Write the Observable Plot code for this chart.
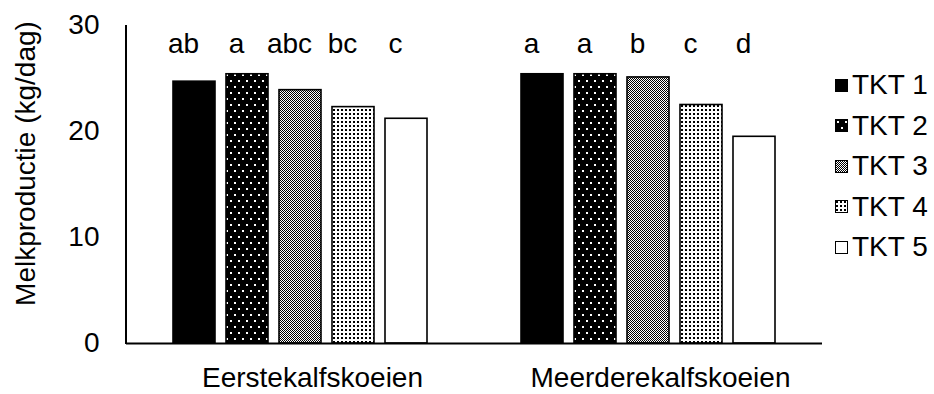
<!DOCTYPE html>
<html>
<head>
<meta charset="utf-8">
<script src="https://cdn.jsdelivr.net/npm/d3@7"></script>
<script src="https://cdn.jsdelivr.net/npm/@observablehq/plot@0.6"></script>
<style>
  html, body { margin: 0; padding: 0; background: #fff; }
  body { font-family: "Liberation Sans", Arial, sans-serif; }
  #wrap { position: relative; width: 934px; height: 394px; overflow: hidden; }
  #legend { position: absolute; left: 835px; top: 65px; }
  .item { display: flex; align-items: center; height: 40.5px; font-size: 28px; color: #000; }
  .sw { width: 13px; height: 13px; margin-right: 4px; }
</style>
</head>
<body>
<svg width="0" height="0" style="position:absolute">
  <defs>
    <pattern id="pat2" width="8" height="12" patternUnits="userSpaceOnUse">
      <rect width="8" height="12" fill="#000"/>
      <rect x="2" y="2" width="2" height="2" fill="#fff"/>
      <rect x="6" y="8" width="2" height="2" fill="#fff"/>
    </pattern>
    <pattern id="pat3" width="2" height="2" patternUnits="userSpaceOnUse">
      <rect width="2" height="2" fill="#fff"/>
      <rect x="0" y="0" width="1" height="1" fill="#000"/>
      <rect x="1" y="1" width="1" height="1" fill="#000"/>
    </pattern>
    <pattern id="pat4" width="4" height="4" patternUnits="userSpaceOnUse">
      <rect width="4" height="4" fill="#fff"/>
      <rect x="1" y="1" width="2" height="2" fill="#000"/>
    </pattern>
  </defs>
</svg>
<div id="wrap">
  <div id="chart"></div>
  <div id="legend"></div>
</div>
<script>
// ---- data ----
const groups = ["Eerstekalfskoeien", "Meerderekalfskoeien"];
const treatments = ["TKT 1", "TKT 2", "TKT 3", "TKT 4", "TKT 5"];
const eerstekalfsValues = [24.7, 25.4, 23.9, 22.3, 21.2];
const meerderekalfsValues = [25.4, 25.4, 25.1, 22.5, 19.5];
const eerstekalfsLetters = ["ab", "a", "abc", "bc", "c"];
const meerderekalfsLetters = ["a", "a", "b", "c", "d"];
const yTicks = [0, 10, 20, 30];
const yLabel = "Melkproductie (kg/dag)";

// ---- styling ----
const fills = ["#000", "url(#pat2)", "url(#pat3)", "url(#pat4)", "#fff"];
const FONT = "Liberation Sans, Arial, sans-serif";

const rows = [];
groups.forEach((g, gi) => {
  const vals = gi === 0 ? eerstekalfsValues : meerderekalfsValues;
  const lets = gi === 0 ? eerstekalfsLetters : meerderekalfsLetters;
  treatments.forEach((t, ti) => rows.push({group: g, treatment: t, value: vals[ti], letter: lets[ti]}));
});

const plot = Plot.plot({
  width: 934,
  height: 394,
  marginLeft: 126,
  marginRight: 112,
  marginTop: 25,
  marginBottom: 51,
  style: {fontFamily: FONT, fontSize: "28px", color: "#000", background: "transparent"},
  fx: {domain: groups, padding: 0, label: null, axis: null},
  x: {domain: treatments, paddingInner: 0.2, paddingOuter: 0.84, axis: null},
  y: {domain: [0, 30], axis: null},
  color: {domain: treatments, range: fills},
  marks: [
    Plot.barY(rows, {fx: "group", x: "treatment", y: "value", fill: "treatment", stroke: "#000", strokeWidth: 1.6}),
    Plot.ruleY([0], {stroke: "#000", strokeWidth: 2}),
    Plot.axisY({ticks: yTicks, tickSize: 0, tickPadding: 27, label: null, fontSize: 28}),
    Plot.axisFx({anchor: "bottom", tickSize: 0, tickPadding: 24, label: null, fontSize: 28, dx: 12}),
    Plot.text(rows, {fx: "group", x: "treatment", text: "letter", frameAnchor: "top", dy: 19, dx: -11, fontSize: 28, lineAnchor: "middle"}),
    Plot.text([{group: groups[0]}], {fx: "group", text: () => yLabel, frameAnchor: "left", textAnchor: "middle", rotate: -90, dx: -111, dy: -21, lineAnchor: "top", fontSize: 28})
  ]
});
document.getElementById("chart").appendChild(plot);

// y axis line along the left edge of the frame, from the y scale's range
const ys = plot.scale("y");
d3.select(plot).append("line")
  .attr("x1", 126).attr("x2", 126)
  .attr("y1", ys.apply(0) + 1).attr("y2", ys.apply(30))
  .attr("stroke", "#000").attr("stroke-width", 2);

// legend
const legend = d3.select("#legend");
treatments.forEach((t, i) => {
  const item = legend.append("div").attr("class", "item");
  const sw = item.append("svg").attr("class", "sw").attr("width", 13).attr("height", 13);
  sw.append("rect").attr("x", 0.5).attr("y", 0.5).attr("width", 12).attr("height", 12)
    .attr("fill", fills[i]).attr("stroke", "#000").attr("stroke-width", 1);
  item.append("span").text(t);
});
</script>
</body>
</html>
